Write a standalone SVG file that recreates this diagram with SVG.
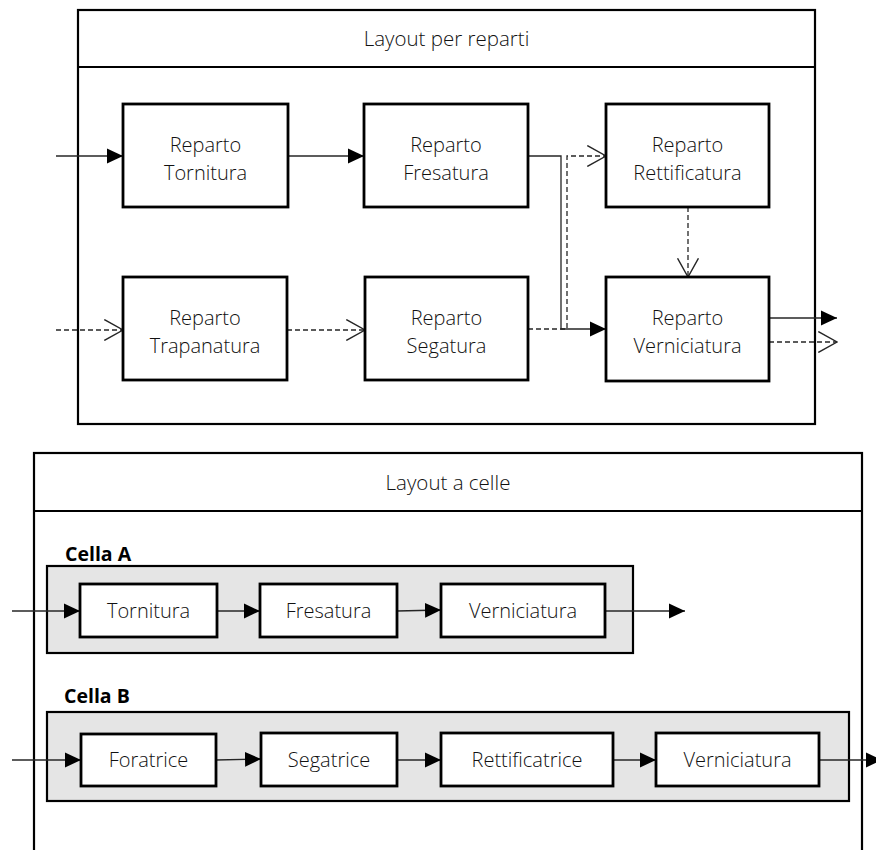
<svg xmlns="http://www.w3.org/2000/svg" width="876" height="850" viewBox="0 0 876 850">
  <style>
    .frame { fill: #ffffff; stroke: #000000; stroke-width: 2.2; }
    .node { fill: #ffffff; stroke: #000000; stroke-width: 2.8; }
    .cell { fill: #e5e5e5; stroke: #000000; stroke-width: 2.2; }
    .lbl { font-family: "Open Sans", "Noto Sans", sans-serif; font-weight: 300; font-size: 20px; fill: #111111; text-anchor: middle; }
    .head { font-family: "Open Sans", "Noto Sans", sans-serif; font-weight: 300; font-size: 20.5px; fill: #111111; text-anchor: middle; }
    .title { font-family: "Open Sans", "Noto Sans", sans-serif; font-weight: 700; font-size: 19.5px; fill: #000000; }
    .solid { fill: none; stroke: #262626; stroke-width: 1.3; }
    .dash { fill: none; stroke: #262626; stroke-width: 1.3; stroke-dasharray: 5 3; }
  </style>
  <defs>
    <marker id="fill" markerUnits="userSpaceOnUse" markerWidth="16" markerHeight="16" viewBox="0 0 15 14" refX="15" refY="7" orient="auto">
      <path d="M0,0 L15,7 L0,14 Z" fill="#000000"/>
    </marker>
    <marker id="open" markerUnits="userSpaceOnUse" markerWidth="20" markerHeight="22" viewBox="0 0 18 20" refX="17.5" refY="10" orient="auto">
      <path d="M0.5,0.5 L17.5,10 L0.5,19.5" fill="none" stroke="#262626" stroke-width="1.3"/>
    </marker>
  </defs>

  <!-- Upper frame: department layout -->
  <g id="frame-reparti">
    <rect class="frame" x="78" y="10" width="737" height="414"/>
    <line x1="78" y1="67" x2="815" y2="67" stroke="#000" stroke-width="2.2"/>
    <text class="head" x="446.5" y="46">Layout per reparti</text>
  </g>

  <!-- Lower frame: cell layout -->
  <g id="frame-celle">
    <rect class="frame" x="34" y="453" width="828" height="420"/>
    <line x1="34" y1="511" x2="862" y2="511" stroke="#000" stroke-width="2.2"/>
    <text class="head" x="448" y="490">Layout a celle</text>
  </g>

  <g id="cella-a">
    <text class="title" x="65" y="561">Cella A</text>
    <rect class="cell" x="47" y="566" width="586" height="87"/>
  </g>
  <g id="cella-b">
    <text class="title" x="64" y="703">Cella B</text>
    <rect class="cell" x="47" y="712" width="802" height="89"/>
  </g>

  <!-- Connectors -->
  <g id="connectors">
    <path class="solid" d="M56,156 H123" marker-end="url(#fill)"/>
    <path class="solid" d="M288,156 H364" marker-end="url(#fill)"/>
    <path class="dash" d="M528,329 H567 V156 H606" marker-end="url(#open)"/>
    <path class="solid" d="M528,156 H561 V329 H606" marker-end="url(#fill)"/>
    <path class="dash" d="M688,207 V277" marker-end="url(#open)"/>
    <path class="solid" d="M769,318 H837" marker-end="url(#fill)"/>
    <path class="dash" d="M769,342 H837" marker-end="url(#open)"/>
    <path class="dash" d="M56,330 H123" marker-end="url(#open)"/>
    <path class="dash" d="M287,330 H365" marker-end="url(#open)"/>

    <path class="solid" d="M12,611 H80" marker-end="url(#fill)"/>
    <path class="solid" d="M217,611 H260" marker-end="url(#fill)"/>
    <path class="solid" d="M397,611 L441,610" marker-end="url(#fill)"/>
    <path class="solid" d="M605,611 H685" marker-end="url(#fill)"/>

    <path class="solid" d="M12,760 H81" marker-end="url(#fill)"/>
    <path class="solid" d="M216,760 L261,759" marker-end="url(#fill)"/>
    <path class="solid" d="M397,760 H441" marker-end="url(#fill)"/>
    <path class="solid" d="M613,760 H656" marker-end="url(#fill)"/>
    <path class="solid" d="M819,760 H882" marker-end="url(#fill)"/>
  </g>

  <!-- Department nodes -->
  <g id="reparto-tornitura">
    <rect class="node" x="123" y="104" width="165" height="103"/>
    <text class="lbl" x="205.5" y="152">Reparto</text>
    <text class="lbl" x="205.5" y="180">Tornitura</text>
  </g>
  <g id="reparto-fresatura">
    <rect class="node" x="364" y="104" width="164" height="103"/>
    <text class="lbl" x="446" y="152">Reparto</text>
    <text class="lbl" x="446" y="180">Fresatura</text>
  </g>
  <g id="reparto-rettificatura">
    <rect class="node" x="606" y="104" width="163" height="103"/>
    <text class="lbl" x="687.5" y="152">Reparto</text>
    <text class="lbl" x="687.5" y="180">Rettificatura</text>
  </g>
  <g id="reparto-trapanatura">
    <rect class="node" x="123" y="277" width="164" height="103"/>
    <text class="lbl" x="205" y="325">Reparto</text>
    <text class="lbl" x="205" y="353">Trapanatura</text>
  </g>
  <g id="reparto-segatura">
    <rect class="node" x="365" y="277" width="163" height="103"/>
    <text class="lbl" x="446.5" y="325">Reparto</text>
    <text class="lbl" x="446.5" y="353">Segatura</text>
  </g>
  <g id="reparto-verniciatura">
    <rect class="node" x="606" y="277" width="163" height="104"/>
    <text class="lbl" x="687.5" y="325">Reparto</text>
    <text class="lbl" x="687.5" y="353">Verniciatura</text>
  </g>

  <!-- Cell A machines -->
  <g id="a-tornitura">
    <rect class="node" x="80" y="584" width="137" height="53"/>
    <text class="lbl" x="148.5" y="618">Tornitura</text>
  </g>
  <g id="a-fresatura">
    <rect class="node" x="260" y="584" width="137" height="53"/>
    <text class="lbl" x="328.5" y="618">Fresatura</text>
  </g>
  <g id="a-verniciatura">
    <rect class="node" x="441" y="584" width="164" height="53"/>
    <text class="lbl" x="523" y="618">Verniciatura</text>
  </g>

  <!-- Cell B machines -->
  <g id="b-foratrice">
    <rect class="node" x="81" y="734" width="135" height="52"/>
    <text class="lbl" x="148.5" y="767">Foratrice</text>
  </g>
  <g id="b-segatrice">
    <rect class="node" x="261" y="733" width="136" height="53"/>
    <text class="lbl" x="329" y="767">Segatrice</text>
  </g>
  <g id="b-rettificatrice">
    <rect class="node" x="441" y="733" width="172" height="53"/>
    <text class="lbl" x="527" y="767">Rettificatrice</text>
  </g>
  <g id="b-verniciatura">
    <rect class="node" x="656" y="733" width="163" height="53"/>
    <text class="lbl" x="737.5" y="767">Verniciatura</text>
  </g>
</svg>
